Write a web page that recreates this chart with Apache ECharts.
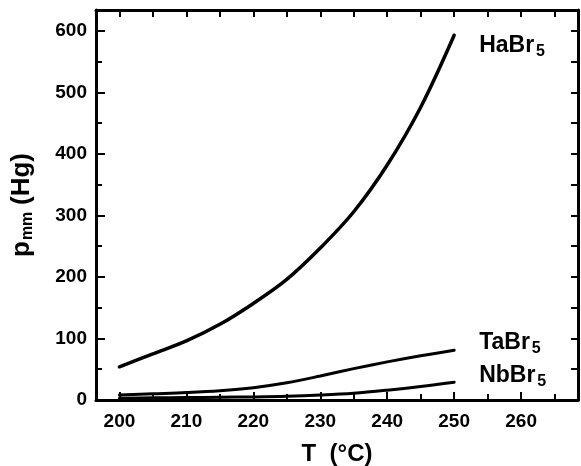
<!DOCTYPE html>
<html>
<head>
<meta charset="utf-8">
<title>Vapour pressure of pentabromides</title>
<script src="https://cdn.jsdelivr.net/npm/echarts@6/dist/echarts.min.js"></script>
<style>
  html, body { margin: 0; padding: 0; background: #fff; }
  #chart { width: 581px; height: 466px; }
</style>
</head>
<body>
<div id="chart"></div>
<script>
// Temperature grid (°C) and vapour pressure (mm Hg) for each bromide
const temps = [200, 205, 210, 215, 220, 225, 230, 235, 240, 245, 250];
const habr5 = [54, 75, 96, 123, 157, 196, 247, 306, 382, 476, 593];
const tabr5 = [8, 10, 12, 15, 20, 28, 39, 51, 62, 72, 81];
const nbbr5 = [3, 3.5, 4, 4.5, 5, 6, 8, 11, 16, 22, 29];

// Axis ticks and labels
const xLabels = [200, 210, 220, 230, 240, 250, 260];
const xMinor = [205, 215, 225, 235, 245, 255, 265];
const xTop = [200, 205, 210, 215, 220, 225, 230, 235, 240, 245, 250, 255, 260, 265];
const yLabels = [0, 100, 200, 300, 400, 500, 600];
const yMinor = [50, 150, 250, 350, 450, 550];
const yRight = [50, 100, 150, 200, 250, 300, 350, 400, 450, 500, 550, 600];

const X_MIN = 196.5, X_MAX = 268.5, Y_MIN = 0, Y_MAX = 634;
const FONT = '"Liberation Sans", Arial, sans-serif';

function pairs(ys) {
  return temps.map((t, i) => [t, ys[i]]);
}

function curve(name, ys, width, offset) {
  return {
    name: name,
    type: 'line',
    xAxisIndex: 0,
    yAxisIndex: 0,
    smooth: 0.35,
    symbol: 'none',
    showSymbol: false,
    lineStyle: { color: '#000', width: width, cap: 'round' },
    data: pairs(ys),
    endLabel: {
      show: true,
      distance: 0,
      offset: offset,
      align: 'left',
      verticalAlign: 'middle',
      formatter: '{n|' + name + '}{s|5}',
      rich: {
        n: { fontFamily: FONT, fontWeight: 'bold', fontSize: 23, color: '#000' },
        s: { fontFamily: FONT, fontWeight: 'bold', fontSize: 16, color: '#000', padding: [12, 0, 0, 2] }
      }
    },
    silent: true,
    z: 3
  };
}

const line = { show: true, onZero: false, lineStyle: { color: '#000', width: 3 } };
const noLine = { show: false };

const chart = echarts.init(document.getElementById('chart'), null, { renderer: 'canvas' });

chart.setOption({
  animation: false,
  backgroundColor: '#fff',
  grid: { left: 96, top: 10, width: 482, height: 390, containLabel: false, outerBoundsMode: 'none' },
  xAxis: [
    {
      type: 'value', position: 'bottom', min: X_MIN, max: X_MAX,
      axisLine: line,
      axisTick: { show: true, inside: true, length: 8, lineStyle: { color: '#000', width: 2 }, customValues: xLabels },
      axisLabel: { show: true, customValues: xLabels, fontFamily: FONT, fontWeight: 'bold', fontSize: 19, color: '#000', margin: 12 },
      splitLine: { show: false },
      name: 'T  (°C)', nameLocation: 'middle', nameGap: 42,
      nameTextStyle: { fontFamily: FONT, fontWeight: 'bold', fontSize: 24, color: '#000' }
    },
    {
      type: 'value', position: 'bottom', min: X_MIN, max: X_MAX,
      axisLine: noLine,
      axisTick: { show: true, inside: true, length: 6, lineStyle: { color: '#000', width: 2 }, customValues: xMinor },
      axisLabel: { show: false },
      splitLine: { show: false }
    },
    {
      type: 'value', position: 'top', min: X_MIN, max: X_MAX,
      axisLine: line,
      axisTick: { show: true, inside: true, length: 7, lineStyle: { color: '#000', width: 2 }, customValues: xTop },
      axisLabel: { show: false },
      splitLine: { show: false }
    }
  ],
  yAxis: [
    {
      type: 'value', position: 'left', min: Y_MIN, max: Y_MAX,
      axisLine: line,
      axisTick: { show: true, inside: true, length: 9, lineStyle: { color: '#000', width: 2 }, customValues: yLabels },
      axisLabel: { show: true, customValues: yLabels, fontFamily: FONT, fontWeight: 'bold', fontSize: 19, color: '#000', margin: 9 },
      splitLine: { show: false },
      name: '{p|p}{m|mm}  {p|(Hg)}', nameLocation: 'middle', nameGap: 60, nameRotate: 90,
      nameTextStyle: {
        rich: {
          p: { fontFamily: FONT, fontWeight: 'bold', fontSize: 26, color: '#000' },
          m: { fontFamily: FONT, fontWeight: 'bold', fontSize: 16, color: '#000', padding: [13, 0, 0, 1] }
        }
      }
    },
    {
      type: 'value', position: 'left', min: Y_MIN, max: Y_MAX,
      axisLine: noLine,
      axisTick: { show: true, inside: true, length: 6, lineStyle: { color: '#000', width: 2 }, customValues: yMinor },
      axisLabel: { show: false },
      splitLine: { show: false }
    },
    {
      type: 'value', position: 'right', min: Y_MIN, max: Y_MAX,
      axisLine: line,
      axisTick: { show: true, inside: true, length: 7, lineStyle: { color: '#000', width: 2 }, customValues: yRight },
      axisLabel: { show: false },
      splitLine: { show: false }
    }
  ],
  series: [
    curve('HaBr', habr5, 3.5, [25, 10]),
    curve('TaBr', tabr5, 3, [25, -8]),
    curve('NbBr', nbbr5, 3, [25, -7])
  ]
});
</script>
</body>
</html>
